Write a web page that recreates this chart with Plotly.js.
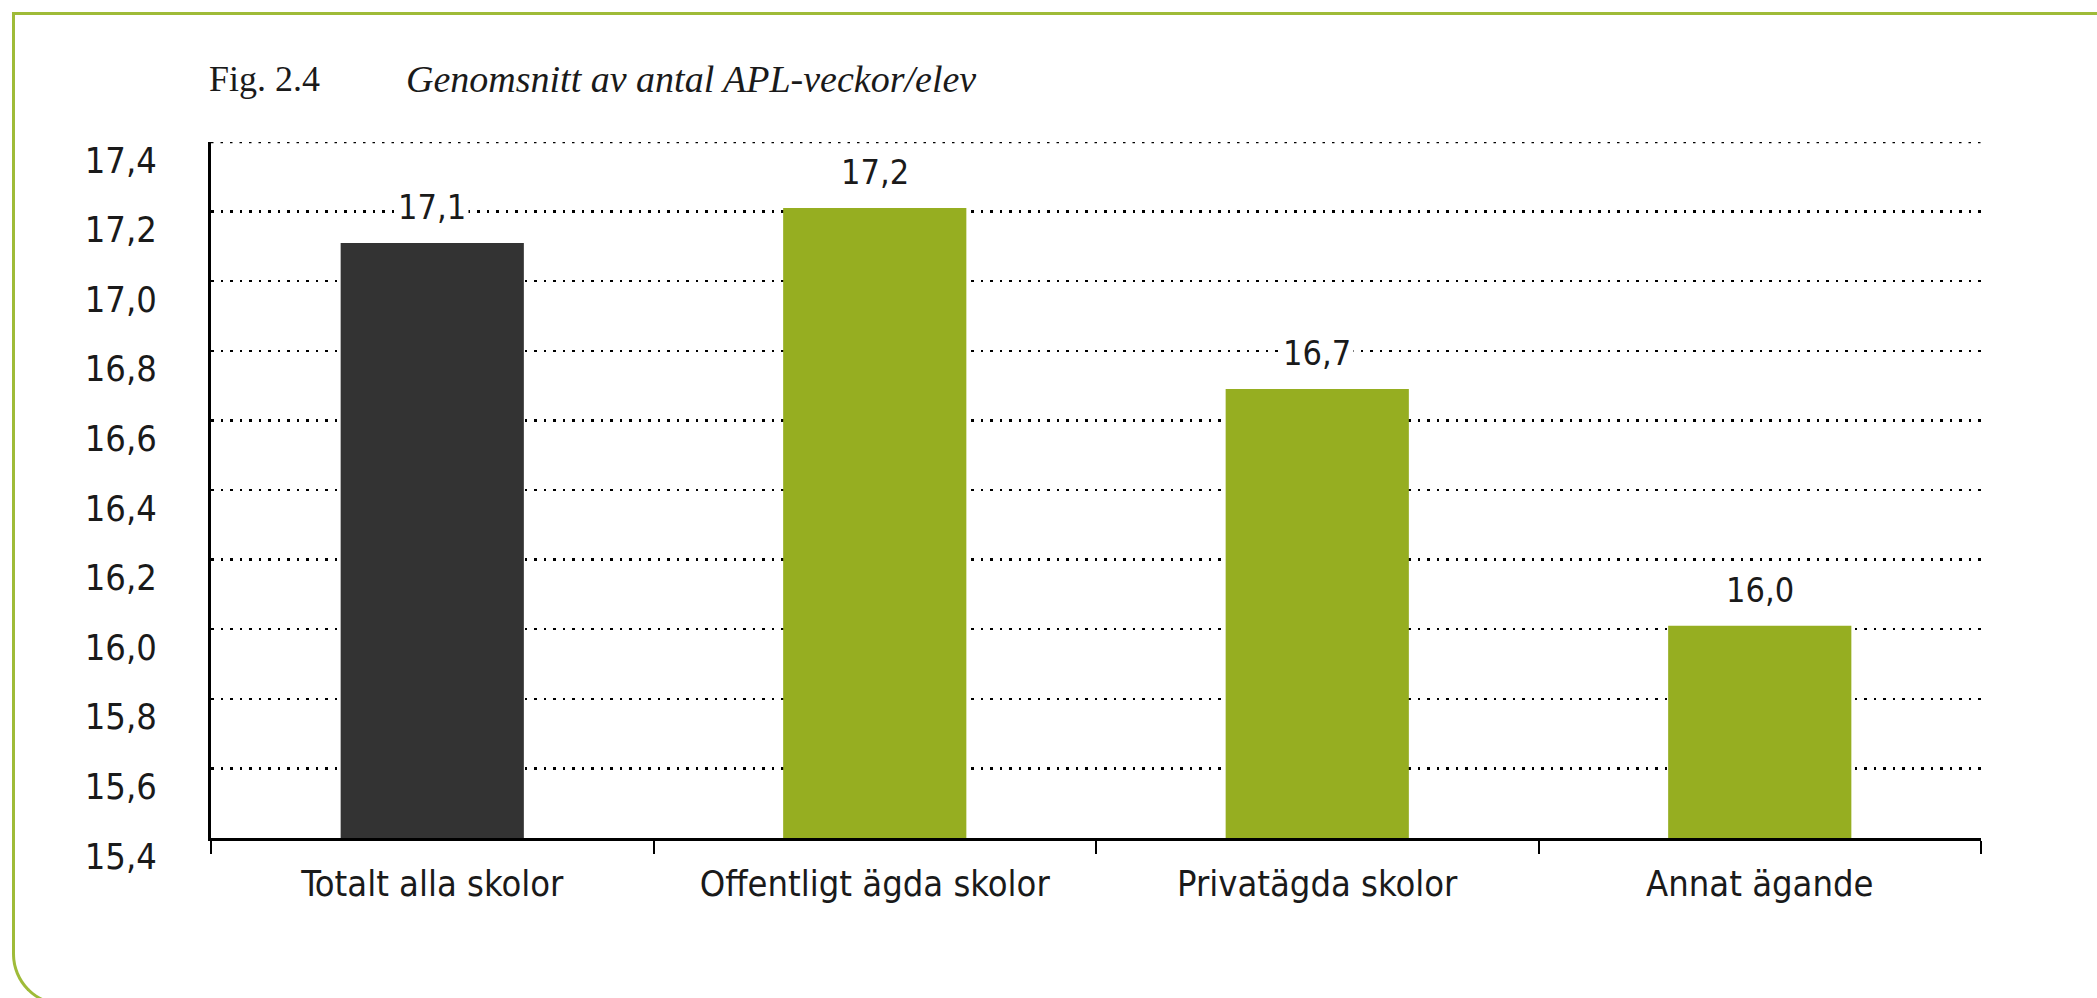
<!DOCTYPE html>
<html>
<head>
<meta charset="utf-8">
<script src="https://cdn.plot.ly/plotly-3.0.1.min.js"></script>
<style>
  html, body { margin: 0; padding: 0; background: #ffffff; overflow: hidden; }
  #chart { width: 2097px; height: 998px; position: absolute; left: 0; top: 0; }
  #frame {
    position: absolute; left: 12px; top: 12px; width: 2200px; height: 994px;
    border-top: 3px solid #9fbb38; border-left: 3px solid #9fbb38; border-bottom: 3px solid #9fbb38;
    border-bottom-left-radius: 52px; pointer-events: none; box-sizing: border-box;
  }
</style>
</head>
<body>
<div id="chart"></div>
<div id="frame"></div>
<script>
const categories = ["Totalt alla skolor", "Offentligt ägda skolor", "Privatägda skolor", "Annat ägande"];
const values = [17.11, 17.21, 16.69, 16.01];
const valueLabels = ["17,1", "17,2", "16,7", "16,0"];
const barColors = ["#333333", "#96AE21", "#96AE21", "#96AE21"];
const yMin = 15.4, yMax = 17.4, yStep = 0.2;
const figNumber = "Fig. 2.4";
const figTitle = "Genomsnitt av antal APL-veckor/elev";

const numFont = "'DejaVu Sans Condensed', 'Liberation Sans', sans-serif";
const catFont = "'DejaVu Sans Condensed', 'Liberation Sans', sans-serif";
const serifFont = "'Liberation Serif', 'DejaVu Serif', serif";
const gridDash = "2.5px,7px";

const trace = {
  type: "bar",
  x: categories,
  y: values,
  marker: { color: barColors, line: { width: 0 } },
  hoverinfo: "skip"
};

const annotations = categories.map((c, i) => ({
  x: c, y: values[i], xref: "x", yref: "y",
  text: valueLabels[i], showarrow: false,
  yanchor: "bottom", yshift: 13,
  bgcolor: "#ffffff", borderpad: 2,
  font: { family: numFont, size: 34, color: "#1a1a1a" }
}));
annotations.push({
  xref: "paper", yref: "paper", x: 0, y: 1, xanchor: "left", yanchor: "bottom",
  yshift: 41, xshift: -4, showarrow: false, text: figNumber,
  font: { family: serifFont, size: 36, color: "#1a1a1a" }
});
annotations.push({
  xref: "paper", yref: "paper", x: 0.109, y: 1, xanchor: "left", yanchor: "bottom",
  yshift: 40, showarrow: false, text: "<i>" + figTitle + "</i>",
  font: { family: serifFont, size: 38, color: "#1a1a1a" }
});

const layout = {
  width: 2097, height: 998,
  margin: { l: 211, r: 116, t: 142, b: 160, pad: 0 },
  paper_bgcolor: "rgba(0,0,0,0)",
  plot_bgcolor: "rgba(0,0,0,0)",
  separators: ", ",
  showlegend: false,
  bargap: 0.586,
  xaxis: {
    type: "category",
    showline: true, linecolor: "#000000", linewidth: 3,
    ticks: "outside", tickson: "boundaries", ticklen: 13, tickwidth: 2, tickcolor: "#000000",
    showgrid: false, zeroline: false,
    ticklabelstandoff: 12,
    tickfont: { family: catFont, size: 36, color: "#1a1a1a" },
    fixedrange: true
  },
  yaxis: {
    range: [yMin, yMax], dtick: yStep, tick0: yMin, tickformat: ".1f",
    showline: true, linecolor: "#000000", linewidth: 3,
    ticks: "", showgrid: true, gridcolor: "#000000", gridwidth: 2.5, griddash: gridDash,
    zeroline: false,
    ticklabelstandoff: 44, ticklabelshift: 18,
    tickfont: { family: numFont, size: 36, color: "#1a1a1a" },
    fixedrange: true
  },
  shapes: [{
    type: "line", xref: "paper", yref: "y", x0: 0, x1: 1.003, y0: yMax, y1: yMax,
    line: { color: "#000000", width: 2.5, dash: gridDash }, layer: "below"
  }],
  annotations: annotations
};

Plotly.newPlot("chart", [trace], layout, { displayModeBar: false, staticPlot: true });
</script>
</body>
</html>
